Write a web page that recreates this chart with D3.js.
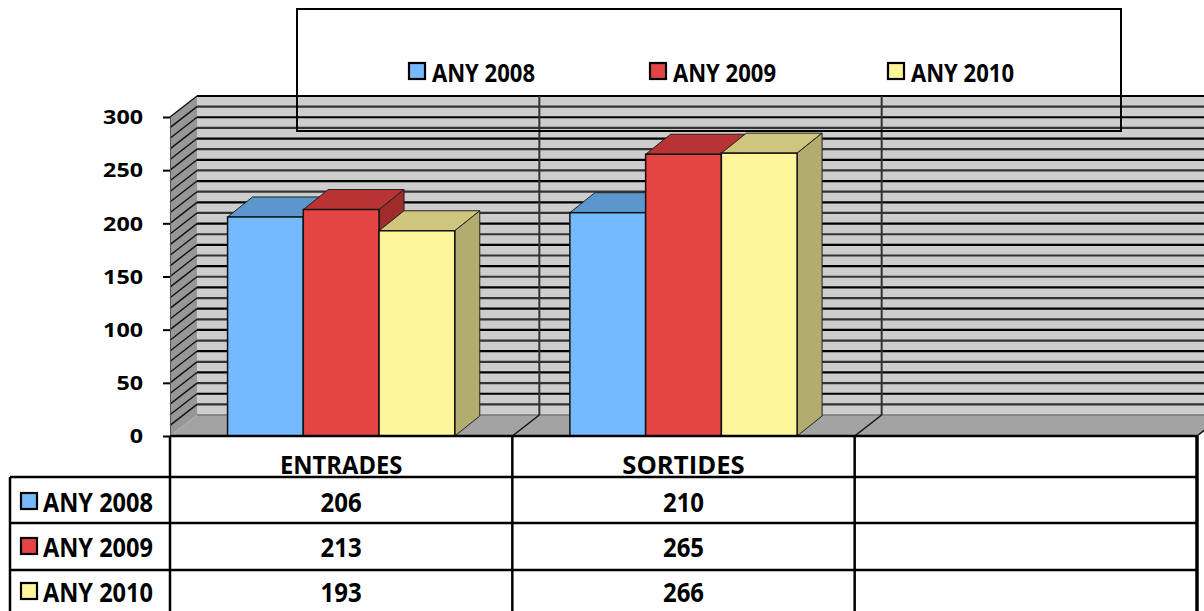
<!DOCTYPE html>
<html><head><meta charset="utf-8">
<script src="https://cdn.jsdelivr.net/npm/d3@7"></script>
<style>
html,body{margin:0;padding:0;background:#fff;}
svg{display:block;font-family:"Open Sans","Noto Sans",sans-serif;font-weight:700;}
</style></head>
<body>
<svg id="chart" width="1204" height="611"></svg>
<script>
// ---- data ----
const categories = ["ENTRADES", "SORTIDES", ""];
const seriesNames = ["ANY 2008", "ANY 2009", "ANY 2010"];
const values2008 = [206, 210];
const values2009 = [213, 265];
const values2010 = [193, 266];
const yTicks = [0, 50, 100, 150, 200, 250, 300];
const gridStep = 10;

const seriesValues = [values2008, values2009, values2010];
const front = ["#75b9ff", "#e54444", "#fff59b"];
const topC  = ["#5b96cc", "#b83333", "#cfc67e"];
const sideC = ["#4a7aa8", "#9f2b2b", "#b2ac6e"];

const svg = d3.select("#chart");
const DX = 27, DY = -21;     // wall depth
const BDX = 25, BDY = -20;   // bar depth

const x0 = d3.scaleBand().domain(categories).range([170, 1197]).padding(0);
const x1 = d3.scaleBand().domain(seriesNames).range([0, x0.bandwidth()]).paddingInner(0).paddingOuter(0.76);
const y = d3.scaleLinear().domain([0, 300]).range([436, 117]);

const xL = x0.range()[0], xR = x0.range()[1];
const y0 = y(0), yTop = y(300);

// ---- walls ----
svg.append("polygon")
  .attr("points", [[xL+DX, yTop+DY], [xR+DX, yTop+DY], [xR+DX, y0+DY], [xL+DX, y0+DY]].join(" "))
  .attr("fill", "#cdcdcd");
svg.append("polygon")
  .attr("points", [[xL, yTop], [xL+DX, yTop+DY], [xL+DX, y0+DY], [xL, y0]].join(" "))
  .attr("fill", "#979797");
svg.append("polygon")
  .attr("points", [[xL, y0], [xL+DX, y0+DY], [xR+DX, y0+DY], [xR, y0]].join(" "))
  .attr("fill", "#a3a3a3");

// gridlines
const gridVals = d3.range(gridStep, 300 + gridStep, gridStep);
const g = svg.append("g");
gridVals.forEach((v, i) => {
  g.append("line").attr("x1", xL+DX).attr("x2", xR+DX)
    .attr("y1", y(v)+DY).attr("y2", y(v)+DY)
    .attr("stroke", i % 2 ? "#000" : "#333").attr("stroke-width", 2.2);
  g.append("line").attr("x1", xL).attr("x2", xL+DX)
    .attr("y1", y(v)).attr("y2", y(v)+DY)
    .attr("stroke", "#111").attr("stroke-width", 1.4);
});
// floor back edge
svg.append("line").attr("x1", xL+DX).attr("x2", xR+DX).attr("y1", y0+DY).attr("y2", y0+DY)
  .attr("stroke", "#777").attr("stroke-width", 1.5);

// category dividers
categories.slice(1).forEach(c => {
  const fx = x0(c);
  svg.append("line").attr("x1", fx+DX).attr("x2", fx+DX).attr("y1", yTop+DY).attr("y2", y0+DY)
    .attr("stroke", "#333").attr("stroke-width", 2);
  svg.append("line").attr("x1", fx+DX).attr("x2", fx).attr("y1", y0+DY).attr("y2", y0)
    .attr("stroke", "#111").attr("stroke-width", 1.5);
});
svg.append("line").attr("x1", xR+DX).attr("x2", xR).attr("y1", y0+DY).attr("y2", y0)
  .attr("stroke", "#111").attr("stroke-width", 1.5);

// ---- bars ----
categories.forEach((cat, ci) => {
  seriesNames.forEach((s, si) => {
    const v = seriesValues[si][ci];
    if (v === undefined) return;
    const xl = x0(cat) + x1(s), w = x1.bandwidth(), yt = y(v);
    const bg = svg.append("g");
    bg.append("polygon")
      .attr("points", [[xl, yt], [xl+BDX, yt+BDY], [xl+w+BDX, yt+BDY], [xl+w, yt]].join(" "))
      .attr("fill", topC[si]).attr("stroke", "#222").attr("stroke-width", 1);
    bg.append("polygon")
      .attr("points", [[xl+w, yt], [xl+w+BDX, yt+BDY], [xl+w+BDX, y0+BDY], [xl+w, y0]].join(" "))
      .attr("fill", sideC[si]).attr("stroke", "#222").attr("stroke-width", 1);
    bg.append("rect").attr("x", xl).attr("y", yt).attr("width", w).attr("height", y0 - yt)
      .attr("fill", front[si]).attr("stroke", "#111").attr("stroke-width", 1.5);
  });
});

// ---- y axis ----
const axis = svg.append("g").attr("transform", `translate(${xL},0)`)
  .call(d3.axisLeft(y).tickValues(yTicks).tickSize(7).tickPadding(20));
axis.select(".domain").attr("stroke", "#555").attr("stroke-width", 1);
axis.selectAll(".tick line").attr("stroke", "#000").attr("stroke-width", 2);
axis.selectAll(".tick text")
  .attr("font-size", 20).attr("font-weight", 700).attr("fill", "#000")
  .attr("font-family", "'Open Sans', sans-serif")
  .attr("dy", "0.34em")
  .attr("textLength", d => String(d).length * 13.3)
  .attr("lengthAdjust", "spacingAndGlyphs");

// ---- legend box (top) ----
svg.append("rect").attr("x", 297).attr("y", 9).attr("width", 824).attr("height", 122)
  .attr("fill", "none").attr("stroke", "#000").attr("stroke-width", 2);
const legX = [409, 650, 888];
seriesNames.forEach((s, i) => {
  svg.append("rect").attr("x", legX[i]).attr("y", 63).attr("width", 16).attr("height", 16)
    .attr("fill", front[i]).attr("stroke", "#000").attr("stroke-width", 2.2);
  svg.append("text").attr("x", legX[i] + 23).attr("y", 82).text(s)
    .attr("font-size", 25).attr("fill", "#000")
    .attr("textLength", 103).attr("lengthAdjust", "spacingAndGlyphs");
});

// ---- data table ----
const rowY = [477, 523, 570];
const tbl = svg.append("g").attr("stroke", "#000").attr("stroke-width", 2.5);
rowY.forEach(ry => tbl.append("line").attr("x1", 10).attr("x2", xR).attr("y1", ry).attr("y2", ry));
tbl.append("line").attr("x1", xL).attr("x2", xR).attr("y1", y0).attr("y2", y0);
tbl.append("line").attr("x1", 10).attr("x2", 10).attr("y1", rowY[0]).attr("y2", 611);
categories.forEach(c => tbl.append("line").attr("x1", x0(c)).attr("x2", x0(c)).attr("y1", y0).attr("y2", 611));
tbl.append("line").attr("x1", xR).attr("x2", xR).attr("y1", y0).attr("y2", 611).attr("stroke-width", 3.5);

categories.forEach(c => {
  if (!c) return;
  svg.append("text").attr("x", x0(c) + x0.bandwidth()/2).attr("y", 474)
    .attr("text-anchor", "middle").attr("font-size", 25).text(c)
    .attr("textLength", c.length * 15.3).attr("lengthAdjust", "spacingAndGlyphs");
});
const baseY = [512, 557, 602];
seriesNames.forEach((s, si) => {
  svg.append("rect").attr("x", 21).attr("y", baseY[si] - 19).attr("width", 16).attr("height", 16)
    .attr("fill", front[si]).attr("stroke", "#000").attr("stroke-width", 2.2);
  svg.append("text").attr("x", 43).attr("y", baseY[si]).text(s)
    .attr("font-size", 26).attr("fill", "#000")
    .attr("textLength", 110).attr("lengthAdjust", "spacingAndGlyphs");
  categories.forEach((c, ci) => {
    const v = seriesValues[si][ci];
    if (v === undefined) return;
    svg.append("text").attr("x", x0(c) + x0.bandwidth()/2).attr("y", baseY[si])
      .attr("text-anchor", "middle").attr("font-size", 26).text(v)
      .attr("textLength", String(v).length * 13.7).attr("lengthAdjust", "spacingAndGlyphs");
  });
});
</script>
</body></html>
